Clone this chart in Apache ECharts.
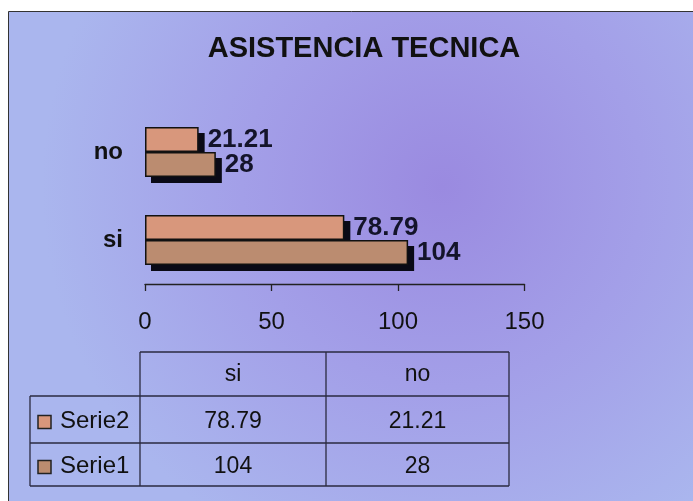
<!DOCTYPE html>
<html><head><meta charset="utf-8">
<script src="https://cdn.jsdelivr.net/npm/echarts@6/dist/echarts.min.js"></script>
<style>html,body{margin:0;padding:0;background:#fff}#c{width:693px;height:501px}</style>
</head><body><div id="c"></div>
<script>
var categories = ['si', 'no'];
var seriesNames = ['Serie2', 'Serie1'];
var serie2 = [78.79, 21.21];
var serie1 = [104, 28];
var xTicks = [0, 50, 100, 150];
var titleText = 'ASISTENCIA TECNICA';

var colors = ['#d8977c', '#bb8c70'];
var FONT = 'Liberation Sans, Arial, sans-serif';
var BAR_W = 25, SH = 6;
var chart = echarts.init(document.getElementById('c'), null, {renderer: 'canvas'});

// table geometry
var tx0 = 30, tx1 = 140, tx2 = 326, tx3 = 509;
var ty0 = 352, ty1 = 396, ty2 = 443, ty3 = 486;
var lineStyle = {stroke: '#2a2a40', lineWidth: 1.3};
var g = [];
g.push({type: 'rect', z: -10, shape: {x: 8.5, y: 11.5, width: 700, height: 500},
  style: {fill: new echarts.graphic.RadialGradient(0.62, 0.35, 0.8, [
    {offset: 0, color: '#9a8ae0'}, {offset: 0.5, color: '#a39fe8'}, {offset: 1, color: '#aab6ee'}]),
    stroke: '#333', lineWidth: 1}});
function ln(x1, y1, x2, y2) { g.push({type: 'line', shape: {x1: x1, y1: y1, x2: x2, y2: y2}, style: lineStyle}); }
ln(tx1, ty0, tx3, ty0);
ln(tx0, ty1, tx3, ty1);
ln(tx0, ty2, tx3, ty2);
ln(tx0, ty3, tx3, ty3);
ln(tx0, ty1, tx0, ty3);
ln(tx1, ty0, tx1, ty3);
ln(tx2, ty0, tx2, ty3);
ln(tx3, ty0, tx3, ty3);
var colX = [(tx1 + tx2) / 2, (tx2 + tx3) / 2];
function txt(x, y, s, align, size) {
  g.push({type: 'text', x: x, y: y, style: {text: s, font: (size || 23) + 'px ' + FONT, fill: '#111', align: align || 'center', verticalAlign: 'middle'}});
}
categories.forEach(function (c, i) { txt(colX[i], (ty0 + ty1) / 2 + 1, c); });
var rows = [serie2, serie1];
rows.forEach(function (arr, r) {
  var yc = r === 0 ? (ty1 + ty2) / 2 + 2 : (ty2 + ty3) / 2 + 2;
  g.push({type: 'rect', shape: {x: 38, y: yc - 6, width: 13, height: 13}, style: {fill: colors[r], stroke: '#222', lineWidth: 1.5}});
  txt(60, yc, seriesNames[r], 'left', 24);
  arr.forEach(function (v, i) { txt(colX[i], yc, String(v)); });
});

var barLabel = {show: true, position: 'right', distance: 9, fontFamily: FONT, fontWeight: 'bold', fontSize: 26, color: '#14142a'};
var itemBase = {borderColor: '#111', borderWidth: 1.5};

function shadowData(arr) { return arr.map(function (v, i) { return [v, i]; }); }
function shadowSeries(arr, sIdx) {
  return {type: 'custom', z: 1, silent: true, data: shadowData(arr), encode: {x: 0, y: 1},
    renderItem: function (params, api) {
      var end = api.coord([api.value(0), api.value(1)]);
      var start = api.coord([0, api.value(1)]);
      var top = end[1] - BAR_W + sIdx * BAR_W;
      return {type: 'rect', shape: {x: start[0] + SH, y: top + SH, width: end[0] - start[0], height: BAR_W},
        style: {fill: '#0a0a16'}};
    }};
}

chart.setOption({
  backgroundColor: '#fff',
  animation: false,
  title: {text: titleText, left: 359, top: 29, textAlign: 'center',
    textStyle: {fontFamily: FONT, fontWeight: 'bold', fontSize: 29, color: '#111'}},
  graphic: g,
  grid: {left: 145, right: 168.5, top: 108, bottom: 217},
  xAxis: {type: 'value', min: 0, max: 150, interval: 50,
    axisLine: {show: true, lineStyle: {color: '#222', width: 1.3}},
    axisTick: {show: true, length: 7, lineStyle: {color: '#222', width: 1.3}},
    splitLine: {show: false},
    axisLabel: {margin: 26, fontFamily: FONT, fontSize: 24, color: '#111',
      formatter: function (v) { return xTicks.indexOf(v) >= 0 ? String(v) : ''; }}},
  yAxis: {type: 'category', data: categories,
    axisLine: {show: false}, axisTick: {show: false},
    axisLabel: {margin: 22, fontFamily: FONT, fontWeight: 'bold', fontSize: 24, color: '#111'}},
  series: [
    shadowSeries(serie2, 0),
    shadowSeries(serie1, 1),
    {name: seriesNames[0], type: 'bar', z: 2, data: serie2, barWidth: BAR_W, barGap: '0%',
      itemStyle: Object.assign({color: colors[0]}, itemBase), label: barLabel},
    {name: seriesNames[1], type: 'bar', z: 3, data: serie1, barWidth: BAR_W, barGap: '0%',
      itemStyle: Object.assign({color: colors[1]}, itemBase), label: barLabel}
  ]
});
</script></body></html>
